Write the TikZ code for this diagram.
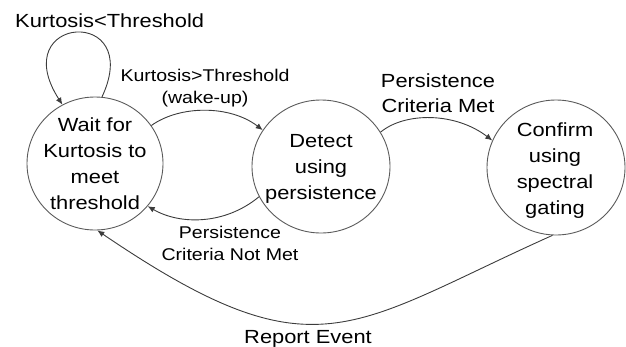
\documentclass[tikz,border=0pt]{standalone}
\usepackage{fontspec}
\setmainfont{Liberation Sans}[FakeStretch=1.15]
\usetikzlibrary{shapes.geometric,arrows.meta}
\definecolor{linec}{RGB}{60,60,60}
\definecolor{circc}{RGB}{90,90,90}
\begin{document}
\begin{tikzpicture}[x=1pt,y=-1pt,
  state/.style={ellipse,draw=circc,line width=0.9pt,inner sep=0pt},
  stext/.style={align=center,inner sep=0pt,font=\fontsize{19}{26}\selectfont},
  biglab/.style={align=center,inner sep=0pt,font=\fontsize{19}{25}\selectfont},
  smalllab/.style={align=center,inner sep=0pt,font=\fontsize{17}{22}\selectfont},
  conn/.style={draw=linec,line width=0.9pt,-{Latex[length=7pt,width=6pt]}}]
\useasboundingbox (0,0) rectangle (626,346);
% states
\node[state,minimum width=136pt,minimum height=133pt] (w) at (95,163.5) {};
\node[state,minimum width=138pt,minimum height=133pt] (d) at (321,166.5) {};
\node[state,minimum width=138pt,minimum height=135pt] (c) at (556,167.5) {};
\node[stext] (wt) at (95,164) {Wait for\\Kurtosis to\\meet\\threshold};
\node[stext] (dt) at (321,168.5) {Detect\\using\\persistence};
\node[stext] (ct) at (555,171) {Confirm\\using\\spectral\\gating};
% labels
\node[biglab,anchor=base west] (l1) at (15,27) {Kurtosis<Threshold};
\node[smalllab] (l2) at (205,88.6) {Kurtosis>Threshold\\(wake-up)};
\node[smalllab] (l3) at (230,243) {Persistence\\Criteria Not Met};
\node[biglab] (l4) at (438,93.5) {Persistence\\Criteria Met};
\node[biglab,anchor=base] (l5) at (308,343) {Report Event};
% connectors
\draw[conn] (w.84) .. controls (145,5) and (5,15) .. (w.119);
\draw[conn] (w.34) .. controls (180,105) and (230,105) .. (d.148);
\draw[conn] (d.206) .. controls (225,225) and (180,225) .. (w.-39);
\draw[conn] (d.30) .. controls (405,112) and (455,112) .. (c.157);
\draw[conn] (c.267) .. controls (348,327) and (316,379) .. (w.272);
\end{tikzpicture}
\end{document}
